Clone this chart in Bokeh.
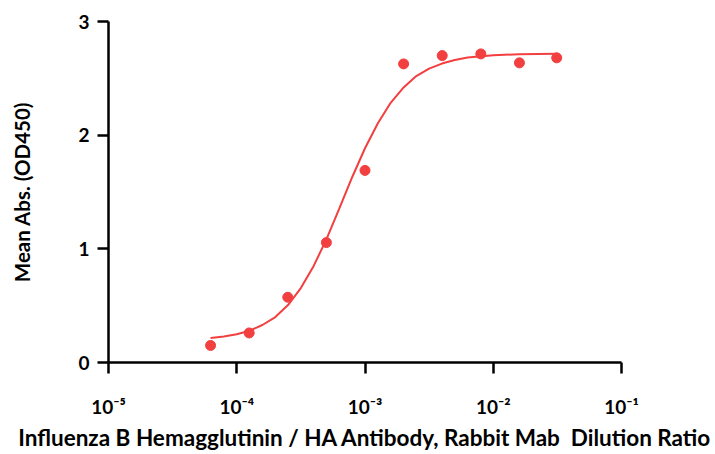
from bokeh.plotting import figure
from bokeh.models import FixedTicker, CustomJSTickFormatter
from bokeh.embed import file_html
from bokeh.resources import INLINE

# measured points (dilution ratio vs mean absorbance)
dilution = [6.25e-5, 1.25e-4, 2.5e-4, 5e-4, 1e-3, 2e-3, 4e-3, 8e-3, 1.6e-2, 3.125e-2]
od450 = [0.15, 0.26, 0.574, 1.055, 1.69, 2.627, 2.70, 2.715, 2.636, 2.68]

# fitted curve, values
curve_x = [6.25e-5, 7.94e-5, 1e-4, 1.26e-4, 1.585e-4, 2e-4, 2.51e-4, 3.16e-4, 3.98e-4,
           5.01e-4, 6.31e-4, 7.94e-4, 1e-3, 1.26e-3, 1.585e-3, 2e-3, 2.51e-3, 3.16e-3,
           3.98e-3, 5.01e-3, 6.31e-3, 1e-2, 1.585e-2, 3.125e-2]
curve_y = [0.215, 0.228, 0.248, 0.280, 0.330, 0.400, 0.505, 0.655, 0.850,
           1.085, 1.355, 1.630, 1.885, 2.105, 2.285, 2.420, 2.520, 2.585,
           2.630, 2.662, 2.683, 2.703, 2.712, 2.717]

x_ticks = [1e-5, 1e-4, 1e-3, 1e-2, 1e-1]
x_tick_labels = ["10\u207b\u2075", "10\u207b\u2074", "10\u207b\u00b3", "10\u207b\u00b2", "10\u207b\u00b9"]
y_ticks = [0, 1, 2, 3]

RED = "#f23f3f"
FONT = "Lato"

p = figure(width=715, height=454, x_axis_type="log", x_range=(1e-5, 1e-1), y_range=(0, 3),
           output_backend="svg", toolbar_location=None,
           min_border_left=108, min_border_right=94, min_border_top=21, min_border_bottom=92)

p.line(curve_x, curve_y, line_color=RED, line_width=2)
p.scatter(dilution, od450, size=10, fill_color=RED, line_color=RED)

p.xgrid.visible = False
p.ygrid.visible = False
p.outline_line_color = None

p.xaxis.ticker = FixedTicker(ticks=x_ticks)
p.xaxis.formatter = CustomJSTickFormatter(args=dict(tvals=x_ticks, tlabels=x_tick_labels), code="""
let best = 0, bd = 1e9;
for (let i = 0; i < tvals.length; i++) {
  const d = Math.abs(Math.log10(tvals[i]) - Math.log10(tick));
  if (d < bd) { bd = d; best = i; }
}
return tlabels[best];
""")
p.yaxis.ticker = FixedTicker(ticks=y_ticks)

for ax in (p.xaxis, p.yaxis):
    ax.axis_line_color = "black"
    ax.axis_line_width = 2.5
    ax.major_tick_line_color = "black"
    ax.major_tick_line_width = 2.5
    ax.major_tick_out = 11
    ax.major_tick_in = 0
    ax.minor_tick_line_color = None
    ax.major_label_text_font = FONT
    ax.major_label_text_font_style = "bold"
    ax.major_label_text_font_size = "19px"
    ax.major_label_text_color = "black"
    ax.axis_label_text_font = FONT
    ax.axis_label_text_font_style = "bold"
    ax.axis_label_text_color = "black"

p.xaxis.major_label_standoff = 21
p.xaxis.axis_label = "Influenza B Hemagglutinin / HA Antibody, Rabbit Mab\u00a0 Dilution Ratio"
p.xaxis.axis_label_text_font_size = "22.5px"
p.xaxis.axis_label_standoff = 3
p.yaxis.major_label_standoff = 8
p.yaxis.axis_label = "Mean Abs. (OD450)"
p.yaxis.axis_label_text_font_size = "20.5px"
p.yaxis.axis_label_standoff = 41

open("out.html", "w").write(file_html(p, INLINE))
